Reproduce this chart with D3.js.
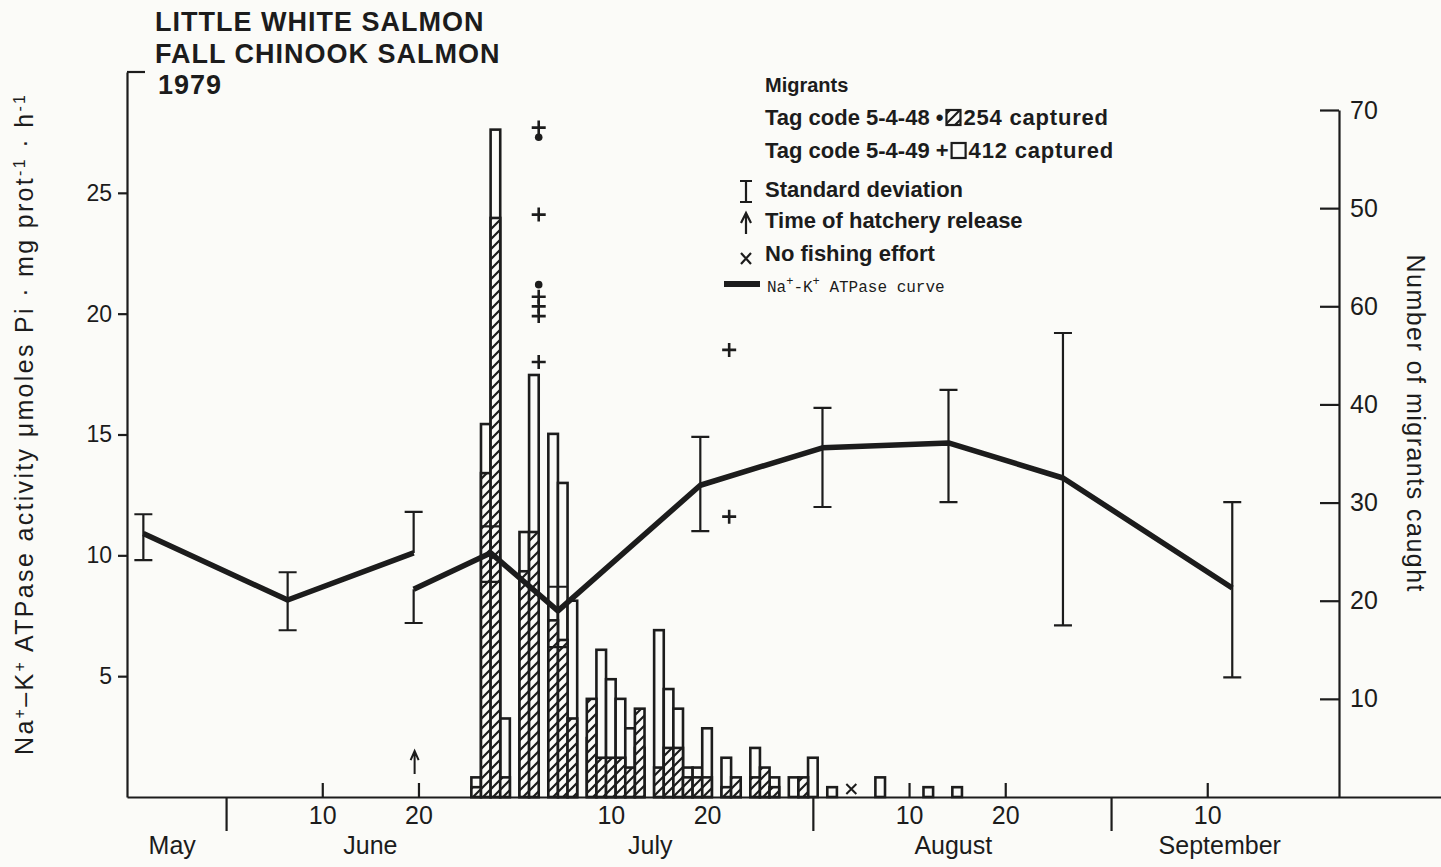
<!DOCTYPE html>
<html>
<head>
<meta charset="utf-8">
<script src="https://cdn.jsdelivr.net/npm/d3@7/dist/d3.min.js"></script>
<style>
  body { margin: 0; background: #fbfbf8; }
  svg { display: block; font-family: "Liberation Sans", Arial, sans-serif; }
  .axis path, .axis line { stroke: #1c1c1c; stroke-width: 2.2; }
  .axis text { fill: #1c1c1c; }
</style>
</head>
<body>
<div id="chart"></div>
<script>
// Catch per day (day of year, 1979): open bars = tag 5-4-49, hatched = tag 5-4-48
var catchDays   = [177, 178, 179, 180, 182, 183, 185, 186, 187, 189, 190, 191, 192, 193, 194, 196, 197, 198, 199, 200, 201, 203, 204, 206, 207, 208, 210, 211, 212, 214, 219, 224, 227];
var open5449    = [  2,  38,  68,   8,  27,  43,  37,  32,  20,   6,  15,  12,  10,   7,   5,  17,  11,   9,   3,   3,   7,   4,   1,   5,   2,   2,   2,   1,   4,   1,   2,   1,   1];
var hatched5448 = [  1,  33,  59,   2,  23,  27,  18,  16,   8,  10,   4,   4,   4,   3,   9,   3,   5,   5,   2,   2,   2,   1,   2,   2,   3,   1,   0,   2,   0,   0,   0,   0,   0];
var noFishingDays = [216];

// Na+-K+ ATPase curve (two pieces), mean and standard deviation limits
var atp1Days = [142.4, 157.4, 170.5];
var atp1Mean = [10.9, 8.15, 10.1];
var atp1Hi   = [11.7, 9.3, 11.8];
var atp1Lo   = [9.8, 6.9, null];

var atp2Days = [170.5, 178.5, 185.5, 200.3, 213, 226.1, 238, 255.6];
var atp2Mean = [8.6, 10.1, 7.7, 12.9, 14.45, 14.65, 13.2, 8.65];
var atp2Hi   = [null, 11.2, 8.7, 14.9, 16.1, 16.85, 19.2, 12.2];
var atp2Lo   = [7.2, 8.9, 6.2, 11.0, 12.0, 12.2, 7.1, 4.95];

// individual fish values: + tag 5-4-49, dot tag 5-4-48
var plusDays = [183.5, 183.5, 183.5, 183.5, 183.5, 183.5, 203.3, 203.3];
var plusVals = [27.7, 24.1, 20.7, 20.3, 19.9, 18.0, 18.5, 11.6];
var dotDays  = [183.5, 183.5];
var dotVals  = [27.3, 21.2];

var releaseDay = 170.6;

// axes
var dayTicks = [161, 171, 191, 201, 222, 232, 253];
var dayTickLabels = ["10", "20", "10", "20", "10", "20", "10"];
var monthEndTicks = [151, 212, 243];
var monthNames = ["May", "June", "July", "August", "September"];
var monthLabelDays = [145.4, 166, 195.1, 226.6, 254.3];
var leftTicks = [5, 10, 15, 20, 25];
var rightTicks = [10, 20, 30, 40, 50, 60, 70];
var rightTickLabels = ["10", "20", "30", "40", "60", "50", "70"]; // as printed

var W = 1441, H = 867;
var ink = "#1c1c1c";
var paper = "#fbfbf8";

var svg = d3.select("#chart").append("svg")
  .attr("width", W)
  .attr("height", H);

// hatch pattern
var defs = svg.append("defs");
var pat = defs.append("pattern")
  .attr("id", "hatch")
  .attr("patternUnits", "userSpaceOnUse")
  .attr("width", 10).attr("height", 10);
pat.append("rect").attr("width", 10).attr("height", 10).attr("fill", paper);
pat.append("path")
  .attr("d", "M-2,12 L12,-2 M-2,2 L2,-2 M8,12 L12,8")
  .attr("stroke", ink).attr("stroke-width", 2.2);

// scales
var x = d3.scaleLinear().domain([140.7, 277.3]).range([127, 1441]);
var yL = d3.scaleLinear().domain([0, 30]).range([797, 72]);
var yR = d3.scaleLinear().domain([0, 70]).range([797, 110]);

// x axis: day ticks above the line
var xAxis = d3.axisBottom(x)
  .tickValues(dayTicks)
  .tickFormat(function(d, i) { return dayTickLabels[i]; })
  .tickSize(-14)
  .tickSizeOuter(0)
  .tickPadding(9);
var gx = svg.append("g")
  .attr("class", "axis x")
  .attr("transform", "translate(0," + yL(0) + ")")
  .call(xAxis);
gx.selectAll("text").attr("font-size", 25);

// month boundaries below the line
var gm = svg.append("g")
  .attr("class", "axis months")
  .attr("transform", "translate(0," + yL(0) + ")")
  .call(d3.axisBottom(x).tickValues(monthEndTicks).tickSize(34).tickFormat(""));
gm.select(".domain").remove();

svg.append("g").selectAll("text")
  .data(monthNames)
  .enter().append("text")
  .attr("x", function(d, i) { return x(monthLabelDays[i]); })
  .attr("y", 854)
  .attr("text-anchor", "middle")
  .attr("font-size", 25)
  .attr("fill", ink)
  .text(function(d) { return d; });

// left axis
var gl = svg.append("g")
  .attr("class", "axis left")
  .attr("transform", "translate(" + x.range()[0] + ",0)")
  .call(d3.axisLeft(yL).tickValues(leftTicks).tickSize(9).tickSizeOuter(0).tickPadding(6));
gl.selectAll("text").attr("font-size", 23);
gl.append("line")
  .attr("x1", 0).attr("x2", 18)
  .attr("y1", yL(30)).attr("y2", yL(30))
  .attr("stroke", ink).attr("stroke-width", 2.2);

// right axis (ticks point inward)
var gr = svg.append("g")
  .attr("class", "axis right")
  .attr("transform", "translate(1339,0)")
  .call(d3.axisRight(yR)
    .tickValues(rightTicks)
    .tickFormat(function(d, i) { return rightTickLabels[i]; })
    .tickSize(-19).tickSizeOuter(0).tickPadding(11));
gr.selectAll("text").attr("font-size", 25);

// axis titles
var lt = svg.append("text")
  .attr("transform", "translate(33,425) rotate(-90)")
  .attr("text-anchor", "middle")
  .attr("font-size", 25)
  .attr("fill", ink)
  .attr("textLength", 660)
  .attr("lengthAdjust", "spacing");
lt.append("tspan").text("Na");
lt.append("tspan").attr("baseline-shift", "super").attr("font-size", 16).text("+");
lt.append("tspan").text("\u2013K");
lt.append("tspan").attr("baseline-shift", "super").attr("font-size", 16).text("+");
lt.append("tspan").text(" ATPase activity \u03bcmoles Pi \u00b7 mg prot");
lt.append("tspan").attr("baseline-shift", "super").attr("font-size", 16).text("-1");
lt.append("tspan").text(" \u00b7 h");
lt.append("tspan").attr("baseline-shift", "super").attr("font-size", 16).text("-1");

svg.append("text")
  .attr("transform", "translate(1407,423) rotate(90)")
  .attr("text-anchor", "middle")
  .attr("font-size", 25)
  .attr("fill", ink)
  .attr("textLength", 337)
  .attr("lengthAdjust", "spacing")
  .text("Number of migrants caught");

// histogram
var catchData = catchDays.map(function(d, i) {
  return {day: d, open: open5449[i], hatched: hatched5448[i]};
});
var bars = svg.append("g").attr("class", "bars");
bars.selectAll(".open")
  .data(catchData.filter(function(d) { return d.open > 0; }))
  .enter().append("rect")
  .attr("class", "open")
  .attr("x", function(d) { return x(d.day - 0.5); })
  .attr("width", function(d) { return x(d.day + 0.5) - x(d.day - 0.5); })
  .attr("y", function(d) { return yR(d.open); })
  .attr("height", function(d) { return yR(0) - yR(d.open); })
  .attr("fill", paper)
  .attr("stroke", ink)
  .attr("stroke-width", 2.6);
bars.selectAll(".hatched")
  .data(catchData.filter(function(d) { return d.hatched > 0; }))
  .enter().append("rect")
  .attr("class", "hatched")
  .attr("x", function(d) { return x(d.day - 0.5); })
  .attr("width", function(d) { return x(d.day + 0.5) - x(d.day - 0.5); })
  .attr("y", function(d) { return yR(d.hatched); })
  .attr("height", function(d) { return yR(0) - yR(d.hatched); })
  .attr("fill", "url(#hatch)")
  .attr("stroke", ink)
  .attr("stroke-width", 2.6);

// no fishing effort
svg.append("g").selectAll("path")
  .data(noFishingDays)
  .enter().append("path")
  .attr("d", function(d) {
    var cx = x(d), cy = yR(0) - 8;
    return "M" + (cx - 5) + "," + (cy - 5) + "L" + (cx + 5) + "," + (cy + 5) +
           "M" + (cx - 5) + "," + (cy + 5) + "L" + (cx + 5) + "," + (cy - 5);
  })
  .attr("stroke", ink).attr("stroke-width", 2);

// hatchery release arrow
var ax = x(releaseDay);
svg.append("path")
  .attr("d", "M" + ax + "," + yL(0.95) + "V" + yL(1.9) +
             "M" + (ax - 4) + "," + (yL(1.9) + 9) + "L" + ax + "," + yL(1.9) + "L" + (ax + 4) + "," + (yL(1.9) + 9))
  .attr("fill", "none").attr("stroke", ink).attr("stroke-width", 2);

// ATPase curve with SD bars
function drawSeries(days, mean, hi, lo) {
  var pts = days.map(function(d, i) { return {day: d, m: mean[i], hi: hi[i], lo: lo[i]}; });
  var g = svg.append("g").attr("class", "atpase");
  g.append("path")
    .datum(pts)
    .attr("d", d3.line().x(function(d) { return x(d.day); }).y(function(d) { return yL(d.m); }))
    .attr("fill", "none")
    .attr("stroke", ink)
    .attr("stroke-width", 5.5)
    .attr("stroke-linejoin", "round");
  var cap = 9;
  g.selectAll(".sd")
    .data(pts)
    .enter().append("path")
    .attr("class", "sd")
    .attr("d", function(d) {
      var cx = x(d.day);
      var top = d.hi == null ? d.m : d.hi;
      var bot = d.lo == null ? d.m : d.lo;
      var s = "M" + cx + "," + yL(top) + "V" + yL(bot);
      if (d.hi != null) s += "M" + (cx - cap) + "," + yL(d.hi) + "H" + (cx + cap);
      if (d.lo != null) s += "M" + (cx - cap) + "," + yL(d.lo) + "H" + (cx + cap);
      return s;
    })
    .attr("fill", "none")
    .attr("stroke", ink)
    .attr("stroke-width", 2.2);
}
drawSeries(atp1Days, atp1Mean, atp1Hi, atp1Lo);
drawSeries(atp2Days, atp2Mean, atp2Hi, atp2Lo);

// individual values
svg.append("g").selectAll("path")
  .data(plusVals)
  .enter().append("path")
  .attr("d", function(d, i) {
    var cx = x(plusDays[i]), cy = yL(d);
    return "M" + (cx - 7) + "," + cy + "H" + (cx + 7) + "M" + cx + "," + (cy - 7) + "V" + (cy + 7);
  })
  .attr("stroke", ink).attr("stroke-width", 2.6);
svg.append("g").selectAll("circle")
  .data(dotVals)
  .enter().append("circle")
  .attr("cx", function(d, i) { return x(dotDays[i]); })
  .attr("cy", function(d) { return yL(d); })
  .attr("r", 3.8)
  .attr("fill", ink);

// title
var title = svg.append("g").attr("fill", ink).attr("font-weight", "bold").attr("font-size", 27)
  .attr("letter-spacing", 1);
title.append("text").attr("x", 155).attr("y", 31).text("LITTLE WHITE SALMON");
title.append("text").attr("x", 155).attr("y", 63).text("FALL CHINOOK SALMON");
title.append("text").attr("x", 158).attr("y", 94).text("1979");

// legend
var lg = svg.append("g").attr("fill", ink).attr("font-weight", "bold").attr("font-size", 22);
lg.append("text").attr("x", 765).attr("y", 92).attr("font-size", 20).text("Migrants");

// a legend line: leading text, a small box, trailing text
function tagLine(y, lead, boxFill, tail) {
  var t1 = lg.append("text").attr("x", 765).attr("y", y).text(lead);
  var bx = 765 + t1.node().getComputedTextLength() + 3;
  lg.append("rect").attr("x", bx).attr("y", y - 15).attr("width", 14).attr("height", 15)
    .attr("fill", boxFill).attr("stroke", ink).attr("stroke-width", 2.2);
  lg.append("text").attr("x", bx + 17).attr("y", y).attr("letter-spacing", 0.8).text(tail);
}
tagLine(125, "Tag code 5-4-48 \u2022", "url(#hatch)", "254 captured");
tagLine(158, "Tag code 5-4-49 +", "none", "412 captured");

lg.append("text").attr("x", 765).attr("y", 197).text("Standard deviation");
lg.append("text").attr("x", 765).attr("y", 228).text("Time of hatchery release");
lg.append("text").attr("x", 765).attr("y", 261).text("No fishing effort");
var lc = lg.append("text").attr("x", 767).attr("y", 292)
  .attr("font-family", "'Liberation Mono', 'DejaVu Sans Mono', monospace")
  .attr("font-weight", "normal").attr("font-size", 16);
lc.append("tspan").text("Na");
lc.append("tspan").attr("baseline-shift", "super").attr("font-size", 12).text("+");
lc.append("tspan").text("-K");
lc.append("tspan").attr("baseline-shift", "super").attr("font-size", 12).text("+");
lc.append("tspan").text(" ATPase curve");

// legend symbols
var ls = svg.append("g").attr("stroke", ink).attr("fill", "none").attr("stroke-width", 2.2);
ls.append("path").attr("d", "M746,181V202M740,181H752M740,202H752");
ls.append("path").attr("d", "M746,234V214M741,223L746,213L751,223");
ls.append("path").attr("d", "M741,253L751,264M741,264L751,253");
ls.append("path").attr("d", "M724,284H760").attr("stroke-width", 6);
</script>
</body>
</html>
